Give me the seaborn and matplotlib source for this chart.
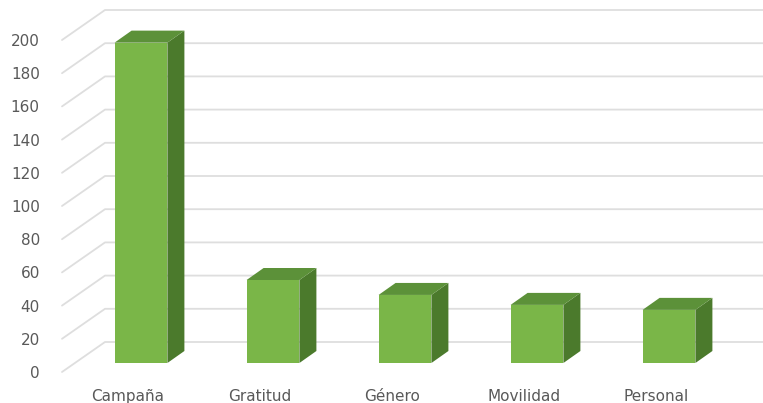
import matplotlib
matplotlib.use("Agg")
import matplotlib.pyplot as plt
import seaborn as sns
from matplotlib.patches import Polygon

categories = ["Campaña", "Gratitud", "Género", "Movilidad", "Personal"]
values = [193, 50, 41, 35, 32]
yticks = list(range(0, 201, 20))

sns.set_style("white")
plt.rcParams['font.family'] = ['DejaVu Sans']

W, H = 763, 403
fig = plt.figure(figsize=(W / 100, H / 100), dpi=100)
L, R, B, T = 62, 722, 31, 363  # axes box in pixels (front plane)
ax = fig.add_axes([L / W, B / H, (R - L) / W, (T - B) / H])

front_c = "#7AB648"
side_c = "#4B7A2C"
top_c = "#5C9139"
grid_c = "#DEDEDE"
text_c = "#595959"

sns.barplot(x=categories, y=values, ax=ax, width=0.40, color=front_c,
            saturation=1, zorder=3)
ax.set_xlim(-0.5, 4.5)
ax.set_ylim(0, 200)

# pixel -> data conversion
px_x = 5 / (R - L)
px_y = 200 / (T - B)
fdx, fdy = 13 * px_x, 9 * px_y     # bar front plane offset
bdx, bdy = 30 * px_x, 21 * px_y    # bar back plane offset
wdx, wdy = 43 * px_x, 30 * px_y    # back wall offset

# back wall gridlines and left wall diagonals
for v in yticks:
    ax.plot([-0.5, -0.5 + wdx, 4.5 + wdx], [v, v + wdy, v + wdy],
            color=grid_c, lw=1.3, clip_on=False, zorder=1)

for p in list(ax.patches):
    x, w, h = p.get_x(), p.get_width(), p.get_height()
    p.set_x(x + fdx)
    p.set_y(fdy)
    p.set_edgecolor("none")
    p.set_clip_on(False)
    side = Polygon([(x + w + fdx, fdy), (x + w + bdx, bdy),
                    (x + w + bdx, h + bdy), (x + w + fdx, h + fdy)],
                   closed=True, facecolor=side_c, edgecolor="none",
                   clip_on=False, zorder=3)
    top = Polygon([(x + fdx, h + fdy), (x + bdx, h + bdy),
                   (x + w + bdx, h + bdy), (x + w + fdx, h + fdy)],
                  closed=True, facecolor=top_c, edgecolor="none",
                  clip_on=False, zorder=3)
    ax.add_patch(side)
    ax.add_patch(top)

ax.set_yticks(yticks)
ax.set_yticklabels([str(t) for t in yticks])
ax.tick_params(axis="y", length=0, pad=16, labelsize=11, labelcolor=text_c)
ax.tick_params(axis="x", length=0, pad=12, labelsize=11, labelcolor=text_c)
ax.set_xlabel("")
ax.set_ylabel("")
for s in ax.spines.values():
    s.set_visible(False)
ax.grid(False)

fig.savefig("out.png", dpi=100, facecolor="white")
